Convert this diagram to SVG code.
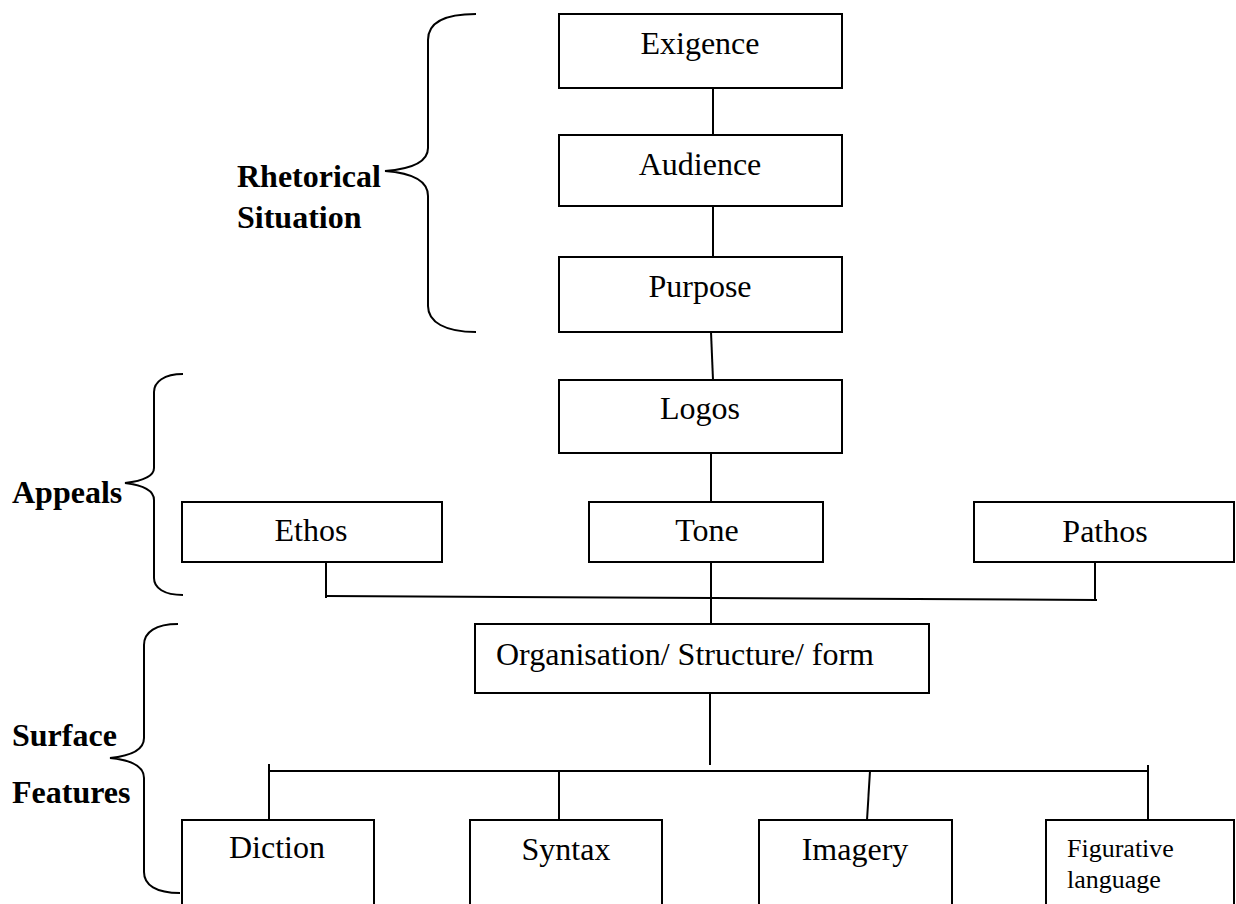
<svg xmlns="http://www.w3.org/2000/svg" width="1236" height="904" viewBox="0 0 1236 904">
<style>
rect.box{fill:#fff;stroke:#000;stroke-width:2}
.ln{stroke:#000;stroke-width:2;fill:none}
.br{stroke:#000;stroke-width:2;fill:none}
text{font-family:"Liberation Serif","Times New Roman",serif;font-size:32px;fill:#000}
.c{text-anchor:middle}
.lbl{font-weight:bold}
.small{font-size:26px}
</style>
<rect width="1236" height="904" fill="#fff"/>
<g id="connectors">
<line class="ln" x1="713" y1="88" x2="713" y2="135"/>
<line class="ln" x1="713" y1="200" x2="713" y2="257"/>
<line class="ln" x1="711" y1="332" x2="713" y2="380"/>
<line class="ln" x1="711" y1="453" x2="711" y2="502"/>
<line class="ln" x1="711" y1="562" x2="711" y2="624"/>
<line class="ln" x1="326" y1="562" x2="326" y2="598"/>
<line class="ln" x1="1095" y1="562" x2="1095" y2="600"/>
<line class="ln" x1="326" y1="596" x2="1097" y2="600"/>
<line class="ln" x1="710" y1="693" x2="710" y2="765"/>
<line class="ln" x1="269" y1="771" x2="1148" y2="771"/>
<line class="ln" x1="269" y1="764" x2="269" y2="820"/>
<line class="ln" x1="559" y1="771" x2="559" y2="820"/>
<line class="ln" x1="870" y1="771" x2="867" y2="820"/>
<line class="ln" x1="1148" y1="765" x2="1148" y2="820"/>
</g>
<g id="brace-rhetorical">
<path class="br" d="M476,14 C445,14 428,22 428,40 L428,148 C428,162 412,169 385,171 C412,173 428,180 428,196 L428,306 C428,322 445,332 476,332"/>
<text class="lbl" x="237" y="187">Rhetorical</text>
<text class="lbl" x="237" y="228">Situation</text>
</g>
<g id="brace-appeals">
<path class="br" d="M183,374 C164,374 154,382 154,392 L154,468 C154,477 142,481 125,483 C142,485 154,490 154,500 L154,578 C154,588 164,595 183,595"/>
<text class="lbl" x="12" y="503">Appeals</text>
</g>
<g id="brace-surface">
<path class="br" d="M178,624 C156,624 144,632 144,645 L144,738 C144,750 130,756 110,758 C130,760 144,766 144,778 L144,872 C144,885 156,893 180,893"/>
<text class="lbl" x="12" y="746">Surface</text>
<text class="lbl" x="12" y="803">Features</text>
</g>
<g id="exigence"><rect class="box" x="559" y="14" width="283" height="74"/><text class="c" x="700" y="54">Exigence</text></g>
<g id="audience"><rect class="box" x="559" y="135" width="283" height="71"/><text class="c" x="700" y="175">Audience</text></g>
<g id="purpose"><rect class="box" x="559" y="257" width="283" height="75"/><text class="c" x="700" y="297">Purpose</text></g>
<g id="logos"><rect class="box" x="559" y="380" width="283" height="73"/><text class="c" x="700" y="419">Logos</text></g>
<g id="ethos"><rect class="box" x="182" y="502" width="260" height="60"/><text class="c" x="311" y="541">Ethos</text></g>
<g id="tone"><rect class="box" x="589" y="502" width="234" height="60"/><text class="c" x="707" y="541">Tone</text></g>
<g id="pathos"><rect class="box" x="974" y="502" width="260" height="60"/><text class="c" x="1105" y="542">Pathos</text></g>
<g id="organisation"><rect class="box" x="475" y="624" width="454" height="69"/><text x="496" y="665">Organisation/ Structure/ form</text></g>
<g id="diction"><rect class="box" x="182" y="820" width="192" height="100"/><text class="c" x="277" y="858">Diction</text></g>
<g id="syntax"><rect class="box" x="470" y="820" width="192" height="100"/><text class="c" x="566" y="860">Syntax</text></g>
<g id="imagery"><rect class="box" x="759" y="820" width="193" height="100"/><text class="c" x="855" y="860">Imagery</text></g>
<g id="figurative"><rect class="box" x="1046" y="820" width="188" height="100"/><text class="small" x="1067" y="857">Figurative</text><text class="small" x="1067" y="888">language</text></g>
</svg>
